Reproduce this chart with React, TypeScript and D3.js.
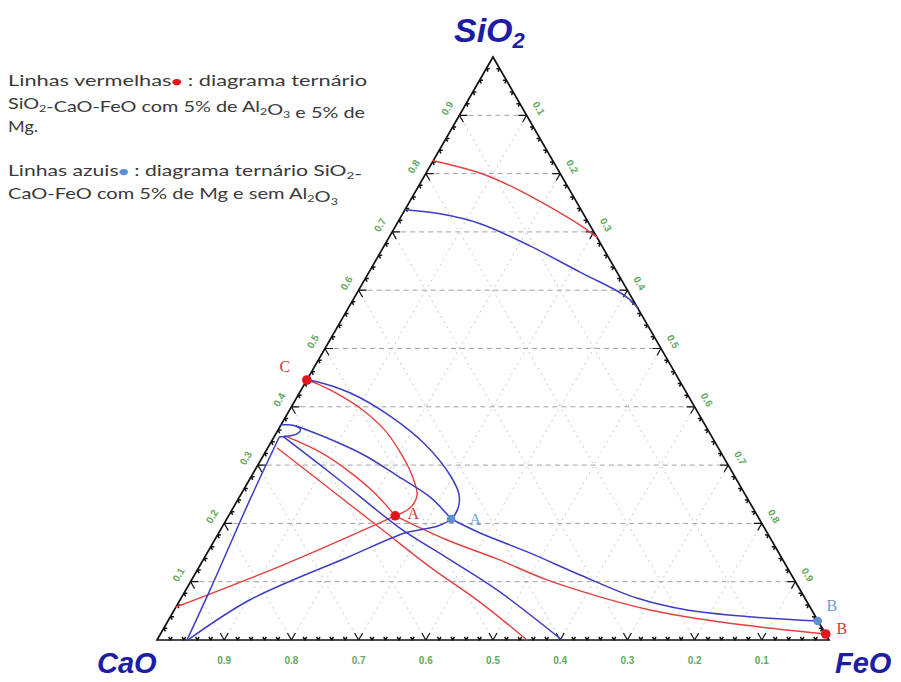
import React from 'react';
import * as d3 from 'd3';

// ---------- data (ternary compositions as [SiO2, FeO] fractions; CaO = 1 - SiO2 - FeO) ----------
const tickValues = [0.1, 0.2, 0.3, 0.4, 0.5, 0.6, 0.7, 0.8, 0.9];
const tickLabels = ['0.1', '0.2', '0.3', '0.4', '0.5', '0.6', '0.7', '0.8', '0.9'];
const minorValues = d3.range(0.02, 1, 0.02).filter((v) => Math.abs(v * 10 - Math.round(v * 10)) > 0.01);

const redTop: [number, number][] = [
  [0.822, 0.0], [0.801, 0.08], [0.777, 0.141], [0.746, 0.207], [0.712, 0.273], [0.691, 0.309],
];
const blueTop: [number, number][] = [
  [0.738, 0.0], [0.731, 0.056], [0.714, 0.124], [0.676, 0.217], [0.631, 0.314], [0.59, 0.402], [0.5695, 0.431],
];
const redLoopC: [number, number][] = [
  [0.446, 0.0], [0.439, 0.02], [0.42, 0.062], [0.395, 0.108], [0.36, 0.159], [0.317, 0.206],
  [0.278, 0.242], [0.249, 0.2625], [0.228, 0.264], [0.218, 0.2557], [0.213, 0.248],
];
const blueLoopC: [number, number][] = [
  [0.446, 0.0], [0.444, 0.013], [0.424, 0.075], [0.384, 0.155], [0.335, 0.232], [0.283, 0.2945],
  [0.249, 0.325], [0.226, 0.335], [0.2075, 0.334], [0.1955, 0.32], [0.189, 0.297], [0.1835, 0.277],
  [0.142, 0.213], [0.069, 0.104], [0.0, 0.046],
];
const blueHook: [number, number][] = [
  [0.369, 0.0], [0.368, 0.02], [0.361, 0.033], [0.353, 0.031], [0.349, 0.015], [0.348, 0.008],
];
const blueUpper: [number, number][] = [
  [0.367, 0.024], [0.343, 0.089], [0.316, 0.152], [0.281, 0.218], [0.245, 0.284], [0.2075, 0.334],
];
const blueToB: [number, number][] = [
  [0.2075, 0.334], [0.1835, 0.389], [0.149, 0.481], [0.1115, 0.574], [0.072, 0.678], [0.0515, 0.763],
  [0.0395, 0.867], [0.0326, 0.967],
];
const redToB: [number, number][] = [
  [0.213, 0.248], [0.1715, 0.346], [0.139, 0.4365], [0.103, 0.529], [0.074, 0.622], [0.0515, 0.708],
  [0.036, 0.79], [0.0223, 0.886], [0.0103, 0.99],
];
const redLeft: [number, number][] = [[0.0566, 0.0], [0.1286, 0.123], [0.213, 0.248]];
const redMiddle: [number, number][] = [
  [0.35, 0.0155], [0.3225, 0.081], [0.288, 0.143], [0.252, 0.198], [0.213, 0.248],
];
const redLower: [number, number][] = [
  [0.329, 0.015], [0.192, 0.236], [0.125, 0.344], [0.065, 0.448], [0.0, 0.5506],
];
const blueLower: [number, number][] = [
  [0.348, 0.015], [0.274, 0.135], [0.192, 0.2655], [0.141, 0.361], [0.086, 0.463], [0.0, 0.6027],
];
const blueLeft: [number, number][] = [[0.3465, 0.008], [0.24, 0.018], [0.086, 0.036], [0.0, 0.0446]];

const redCurves = [redTop, redLoopC, redToB, redLeft, redMiddle, redLower];
const blueCurves = [blueTop, blueLoopC, blueHook, blueUpper, blueToB, blueLower, blueLeft];

const markPoints = [
  { label: 'C', s: 0.446, f: 0.0, kind: 'red', dx: -22, dy: -14 },
  { label: 'A', s: 0.213, f: 0.248, kind: 'red', dx: 18, dy: -2 },
  { label: 'A', s: 0.2075, f: 0.334, kind: 'blue', dx: 24, dy: 0 },
  { label: 'B', s: 0.0326, f: 0.967, kind: 'blue', dx: 14, dy: -16 },
  { label: 'B', s: 0.0103, f: 0.99, kind: 'red', dx: 16, dy: -6 },
];

// ---------- layout ----------
const W = 901;
const H = 682;
const xL = 157;
const xR = 829;
const yB = 640;
const yT = 57;

const px = d3.scaleLinear().domain([0, 1]).range([xL, xR]);
const py = d3.scaleLinear().domain([0, 1]).range([yB, yT]);
const proj = (s: number, f: number): [number, number] => [px(f + s / 2), py(s)];

const RED = '#e3413f';
const BLUE = '#3d3dc2';
const RED_PT = '#e3141c';
const BLUE_PT = '#5b8fd2';
const GREEN = '#62a860';
const TITLE = '#1c1ca6';

const curveGen = d3
  .line<[number, number]>()
  .x((d) => proj(d[0], d[1])[0])
  .y((d) => proj(d[0], d[1])[1])
  .curve(d3.curveCatmullRom.alpha(0.5));

const seg = (a: [number, number], b: [number, number]) => `M${a[0]},${a[1]}L${b[0]},${b[1]}`;

export default function App() {
  const top = proj(1, 0);
  const left = proj(0, 0);
  const right = proj(0, 1);

  const gridH = tickValues.map((v) => seg(proj(v, 0), proj(v, 1 - v)));
  const gridF = tickValues.map((v) => seg(proj(0, v), proj(1 - v, v)));
  const gridC = tickValues.map((v) => seg(proj(0, 1 - v), proj(1 - v, 0)));

  const c60 = 0.5;
  const s60 = Math.sqrt(3) / 2;
  const tickPath = (p: [number, number], dirs: [number, number][], len: number) =>
    dirs.map((d) => `M${p[0]},${p[1]}l${d[0] * len},${d[1] * len}`).join('');

  const leftDirs: [number, number][] = [[1, 0], [c60, s60]];
  const rightDirs: [number, number][] = [[-1, 0], [-c60, s60]];
  const bottomDirs: [number, number][] = [[c60, -s60], [-c60, -s60]];

  let majorTicks = '';
  let minorTicks = '';
  tickValues.forEach((v) => {
    majorTicks += tickPath(proj(v, 0), leftDirs, 8);
    majorTicks += tickPath(proj(1 - v, v), rightDirs, 8);
    majorTicks += tickPath(proj(0, 1 - v), bottomDirs, 8);
  });
  minorValues.forEach((v) => {
    minorTicks += tickPath(proj(v, 0), leftDirs, 3.5);
    minorTicks += tickPath(proj(1 - v, v), rightDirs, 3.5);
    minorTicks += tickPath(proj(0, 1 - v), bottomDirs, 3.5);
  });

  const off = 14;
  const legendFont = 'Lato, "Open Sans", sans-serif';
  const sub = (t: string) => (
    <>
      <tspan dy={3} fontSize={10}>{t}</tspan>
      <tspan dy={-3}>{''}</tspan>
    </>
  );

  return (
    <div style={{ position: 'absolute', left: 0, top: 0 }}>
      <svg width={W} height={H} style={{ display: 'block', background: '#fff' }}>
        {/* grid */}
        <g fill="none">
          {gridF.map((d, i) => (
            <path key={'f' + i} d={d} stroke="#c6c6c6" strokeWidth={1} strokeDasharray="2,4" />
          ))}
          {gridC.map((d, i) => (
            <path key={'c' + i} d={d} stroke="#c6c6c6" strokeWidth={1} strokeDasharray="2,4" />
          ))}
          {gridH.map((d, i) => (
            <path key={'h' + i} d={d} stroke="#a2a2a2" strokeWidth={1} strokeDasharray="5,4" />
          ))}
        </g>

        {/* triangle */}
        <path
          d={`M${top[0]},${top[1]}L${left[0]},${left[1]}L${right[0]},${right[1]}Z`}
          fill="none"
          stroke="#111"
          strokeWidth={1.7}
        />
        <path d={majorTicks} stroke="#111" strokeWidth={1.2} fill="none" />
        <path d={minorTicks} stroke="#111" strokeWidth={1.5} fill="none" />

        {/* tick labels */}
        <g fill={GREEN} fontFamily='"Liberation Sans", Arial, sans-serif' fontWeight="bold" fontSize={10} textAnchor="middle">
          {tickValues.map((v, i) => {
            const p = proj(v, 0);
            const x = p[0] - s60 * off;
            const y = p[1] - c60 * off;
            return (
              <text key={'l' + i} x={x} y={y} dy="0.35em" transform={`rotate(-60 ${x} ${y})`}>
                {tickLabels[i]}
              </text>
            );
          })}
          {tickValues.map((v, i) => {
            const p = proj(1 - v, v);
            const x = p[0] + s60 * off;
            const y = p[1] - c60 * off;
            return (
              <text key={'r' + i} x={x} y={y} dy="0.35em" transform={`rotate(60 ${x} ${y})`}>
                {tickLabels[i]}
              </text>
            );
          })}
          {tickValues.map((v, i) => {
            const p = proj(0, 1 - v);
            return (
              <text key={'b' + i} x={p[0]} y={p[1] + 20} dy="0.35em">
                {tickLabels[i]}
              </text>
            );
          })}
        </g>

        {/* curves */}
        <g fill="none" strokeLinejoin="round" strokeLinecap="round">
          {redCurves.map((c, i) => (
            <path key={'rc' + i} d={curveGen(c) || ''} stroke={RED} strokeWidth={1.4} />
          ))}
          {blueCurves.map((c, i) => (
            <path key={'bc' + i} d={curveGen(c) || ''} stroke={BLUE} strokeWidth={1.5} />
          ))}
        </g>

        {/* points & labels */}
        {markPoints.map((m, i) => {
          const p = proj(m.s, m.f);
          const isRed = m.kind === 'red';
          return (
            <g key={'m' + i}>
              <circle cx={p[0]} cy={p[1]} r={isRed ? 4.8 : 4.3} fill={isRed ? RED_PT : BLUE_PT} />
              <text
                x={p[0] + m.dx}
                y={p[1] + m.dy}
                dy="0.35em"
                textAnchor="middle"
                fontFamily='"Liberation Serif", "DejaVu Serif", serif'
                fontSize={16}
                fill={isRed ? '#d6363a' : '#6d9bd3'}
              >
                {m.label}
              </text>
            </g>
          );
        })}

        {/* apex labels */}
        <g fill={TITLE} fontFamily='"Liberation Sans", Arial, sans-serif' fontWeight="bold" fontStyle="italic">
          <text x={454} y={42} fontSize={34}>
            SiO<tspan dy={6} fontSize={22}>2</tspan>
          </text>
          <text x={97} y={673} fontSize={29}>CaO</text>
          <text x={835} y={673} fontSize={29}>FeO</text>
        </g>

        {/* legend text */}
        <g fill="#3a3a3a" fontFamily={legendFont} fontSize={16}>
          <text x={8} y={86} textLength={359} lengthAdjust="spacingAndGlyphs">
            Linhas vermelhas<tspan fill={RED_PT} fontSize={13}>●</tspan> : diagrama ternário
          </text>
          <text x={8} y={109} textLength={357} lengthAdjust="spacingAndGlyphs">
            SiO{sub('2')}-CaO-FeO com 5% de Al{sub('2')}O{sub('3')} e 5% de
          </text>
          <text x={8} y={132} textLength={30} lengthAdjust="spacingAndGlyphs">Mg.</text>
          <text x={8} y={176} textLength={354} lengthAdjust="spacingAndGlyphs">
            Linhas azuis<tspan fill={BLUE_PT} fontSize={13}>●</tspan> : diagrama ternário SiO{sub('2')}-
          </text>
          <text x={8} y={199} textLength={330} lengthAdjust="spacingAndGlyphs">
            CaO-FeO com 5% de Mg e sem Al{sub('2')}O{sub('3')}
          </text>
        </g>
      </svg>
    </div>
  );
}
